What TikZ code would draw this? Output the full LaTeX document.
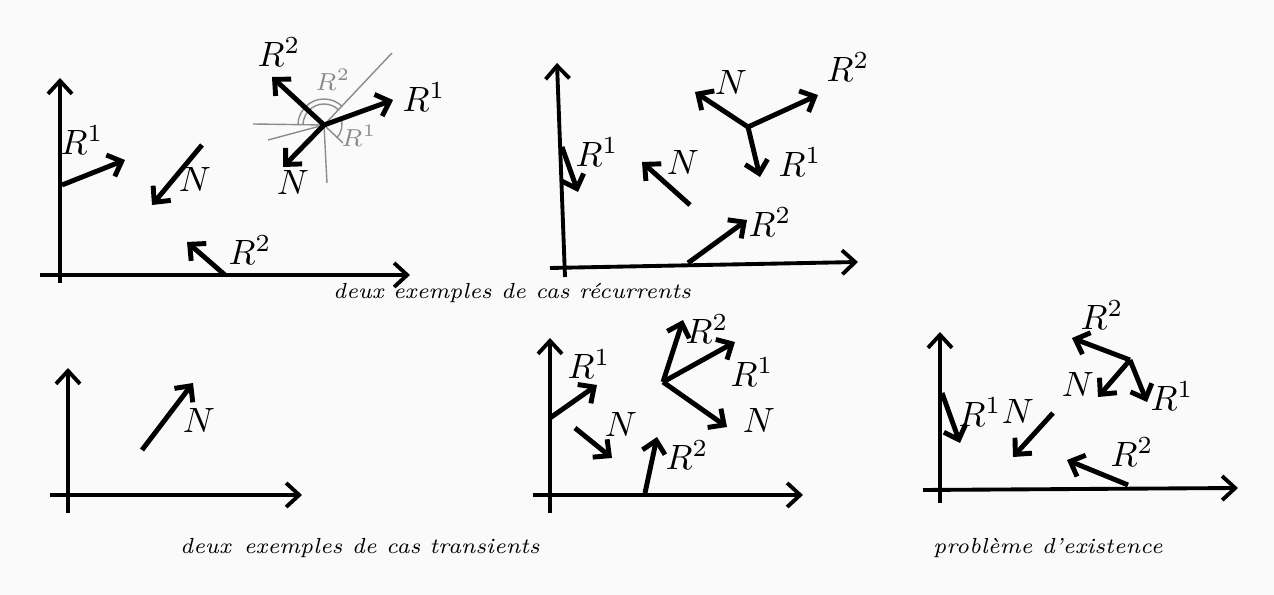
\documentclass[tikz,border=0pt]{standalone}
\usetikzlibrary{arrows.meta, positioning, calc}
\tikzset{
  axe/.style={-{Straight Barb[length=1.3mm, width=2.4mm]}, line width=1.1pt},
  vec/.style={-{Straight Barb[length=1.2mm, width=2.3mm]}, line width=1.4pt},
  lbl/.style={font=\normalsize, inner sep=1pt},
  cone/.style={black!45, line width=0.4pt},
  petit/.style={font=\scriptsize, text=black!45, inner sep=1pt},
  legende/.style={font=\fontsize{6.2}{7}\selectfont\itshape, inner sep=1pt},
}

\begin{document}
\begin{tikzpicture}[x=0.1mm, y=-0.1mm]
  \useasboundingbox (0,0) rectangle (1274,595);
  \fill[black!2] (0,0) rectangle (1274,595);

  % cas recurrent 1
  \coordinate (p1y0) at (60,283);  \coordinate (p1y1) at (60,78);
  \coordinate (p1x0) at (40,275);  \coordinate (p1x1) at (410,275);
  \draw[axe] (p1y0) -- (p1y1);
  \draw[axe] (p1x0) -- (p1x1);
  \coordinate (p1r1a) at (62,185);  \coordinate (p1r1b) at (125,160);
  \coordinate (p1na) at (202,145);  \coordinate (p1nb) at (152,205);
  \coordinate (p1r2a) at (225,275); \coordinate (p1r2b) at (187,242);
  \draw[vec] (p1r1a) -- (p1r1b);
  \draw[vec] (p1na) -- (p1nb);
  \draw[vec] (p1r2a) -- (p1r2b);
  \node[lbl] (p1r1) at (82,140) {$R^1$};
  \node[lbl] (p1n) at (195,180) {$N$};
  \node[lbl] (p1r2) at (250,250) {$R^2$};
  \coordinate (c1) at (324,125);
  \coordinate (c1h) at (253,124);  \coordinate (c1g) at (268,140);
  \coordinate (c1b) at (327,183);  \coordinate (c1d) at (343,143);
  \coordinate (c1e) at (392,53);
  \foreach \bout in {c1h, c1g, c1b, c1d, c1e}
    \draw[cone] (c1) -- (\bout);
  \draw[cone] (c1) ++(-180:26) arc[start angle=-180, end angle=-45, radius=26];
  \draw[cone] (c1) ++(-180:21) arc[start angle=-180, end angle=-45, radius=21];
  \draw[cone] (c1) ++(-25:18) arc[start angle=-25, end angle=45, radius=18];
  \node[petit] (c1t2) at (333,80) {$R^2$};
  \node[petit] (c1t1) at (359,136) {$R^1$};
  \coordinate (c1r1) at (393,100);
  \coordinate (c1r2) at (272,77);
  \coordinate (c1n) at (283,167);
  \draw[vec] (c1) -- (c1r1);
  \draw[vec] (c1) -- (c1r2);
  \draw[vec] (c1) -- (c1n);
  \node[lbl] (c1lr1) at (424,97) {$R^1$};
  \node[lbl] (c1lr2) at (279,52) {$R^2$};
  \node[lbl] (c1ln) at (293,183) {$N$};

  % cas recurrent 2
  \coordinate (p2y0) at (565,277);  \coordinate (p2y1) at (557,63);
  \coordinate (p2x0) at (550,268);  \coordinate (p2x1) at (858,262);
  \draw[axe] (p2y0) -- (p2y1);
  \draw[axe] (p2x0) -- (p2x1);
  \coordinate (p2r1a) at (562,147); \coordinate (p2r1b) at (578,192);
  \coordinate (p2na) at (690,205);  \coordinate (p2nb) at (642,162);
  \coordinate (p2r2a) at (688,263); \coordinate (p2r2b) at (747,220);
  \draw[vec] (p2r1a) -- (p2r1b);
  \draw[vec] (p2na) -- (p2nb);
  \draw[vec] (p2r2a) -- (p2r2b);
  \node[lbl] (p2r1) at (597,152) {$R^1$};
  \node[lbl] (p2n) at (683,163) {$N$};
  \node[lbl] (p2r2) at (770,222) {$R^2$};
  \coordinate (c2) at (748,127);
  \coordinate (c2n) at (695,92);
  \coordinate (c2r2) at (818,95);
  \coordinate (c2r1) at (760,177);
  \draw[vec] (c2) -- (c2n);
  \draw[vec] (c2) -- (c2r2);
  \draw[vec] (c2) -- (c2r1);
  \node[lbl] (c2ln) at (731,83) {$N$};
  \node[lbl] (c2lr2) at (848,67) {$R^2$};
  \node[lbl] (c2lr1) at (800,162) {$R^1$};

  \node[legende] (leg1) at (512,293) {deux exemples de cas récurrents};

  % cas transient 1
  \coordinate (p3y0) at (68,513);  \coordinate (p3y1) at (68,368);
  \coordinate (p3x0) at (50,495);  \coordinate (p3x1) at (302,495);
  \draw[axe] (p3y0) -- (p3y1);
  \draw[axe] (p3x0) -- (p3x1);
  \coordinate (p3na) at (142,450); \coordinate (p3nb) at (193,383);
  \draw[vec] (p3na) -- (p3nb);
  \node[lbl] (p3n) at (199,420) {$N$};

  % cas transient 2
  \coordinate (p4y0) at (550,513);  \coordinate (p4y1) at (550,338);
  \coordinate (p4x0) at (533,495);  \coordinate (p4x1) at (803,495);
  \draw[axe] (p4y0) -- (p4y1);
  \draw[axe] (p4x0) -- (p4x1);
  \coordinate (p4r1a) at (550,418); \coordinate (p4r1b) at (597,385);
  \coordinate (p4na) at (575,428);  \coordinate (p4nb) at (612,458);
  \coordinate (p4r2a) at (645,493); \coordinate (p4r2b) at (657,437);
  \draw[vec] (p4r1a) -- (p4r1b);
  \draw[vec] (p4na) -- (p4nb);
  \draw[vec] (p4r2a) -- (p4r2b);
  \node[lbl] (p4r1) at (589,364) {$R^1$};
  \node[lbl] (p4n) at (621,425) {$N$};
  \node[lbl] (p4r2) at (687,455) {$R^2$};
  \coordinate (c4) at (663,382);
  \coordinate (c4r2) at (683,320);
  \coordinate (c4r1) at (735,342);
  \coordinate (c4n) at (727,427);
  \draw[vec] (c4) -- (c4r2);
  \draw[vec] (c4) -- (c4r1);
  \draw[vec] (c4) -- (c4n);
  \node[lbl] (c4lr2) at (707,329) {$R^2$};
  \node[lbl] (c4lr1) at (752,372) {$R^1$};
  \node[lbl] (c4ln) at (759,420) {$N$};

  \node[legende] (leg2) at (360,548) {deux\, exemples de cas transients};

  % probleme d'existence
  \coordinate (p5y0) at (940,503);  \coordinate (p5y1) at (940,332);
  \coordinate (p5x0) at (923,490);  \coordinate (p5x1) at (1238,488);
  \draw[axe] (p5y0) -- (p5y1);
  \draw[axe] (p5x0) -- (p5x1);
  \coordinate (p5r1a) at (942,393);  \coordinate (p5r1b) at (960,443);
  \coordinate (p5na) at (1053,413);  \coordinate (p5nb) at (1013,457);
  \coordinate (p5r2a) at (1128,485); \coordinate (p5r2b) at (1067,460);
  \draw[vec] (p5r1a) -- (p5r1b);
  \draw[vec] (p5na) -- (p5nb);
  \draw[vec] (p5r2a) -- (p5r2b);
  \node[lbl] (p5r1) at (980,412) {$R^1$};
  \node[lbl] (p5n) at (1018,411) {$N$};
  \node[lbl] (p5r2) at (1132,452) {$R^2$};
  \coordinate (c5) at (1130,360);
  \coordinate (c5r2) at (1072,338);
  \coordinate (c5n) at (1098,397);
  \coordinate (c5r1) at (1147,402);
  \draw[vec] (c5) -- (c5r2);
  \draw[vec] (c5) -- (c5n);
  \draw[vec] (c5) -- (c5r1);
  \node[lbl] (c5lr2) at (1102,315) {$R^2$};
  \node[lbl] (c5ln) at (1078,385) {$N$};
  \node[lbl] (c5lr1) at (1172,396) {$R^1$};

  \node[legende] (leg3) at (1048,548) {problème d'existence};
\end{tikzpicture}
\end{document}
